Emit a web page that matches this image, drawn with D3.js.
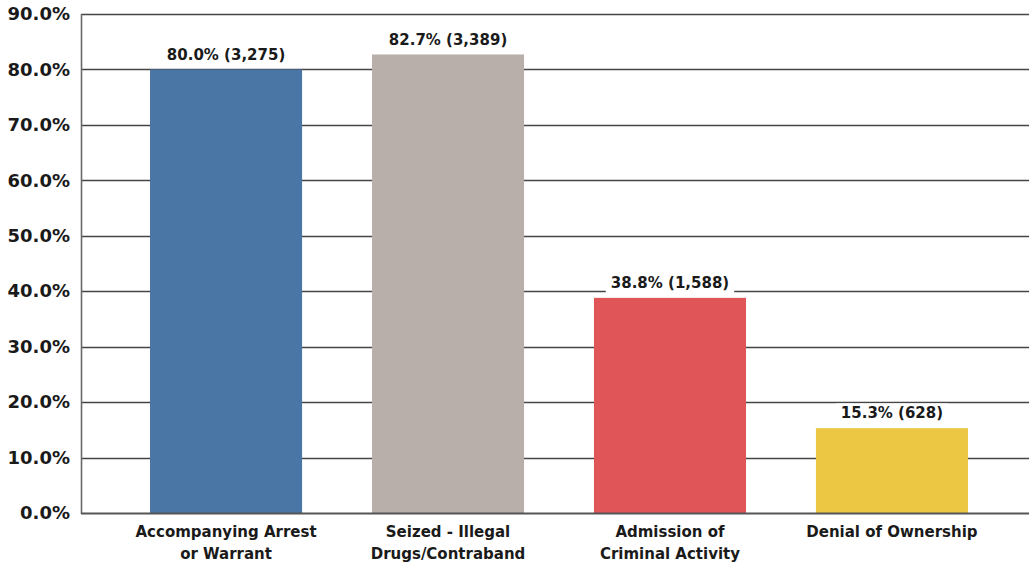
<!DOCTYPE html>
<html>
<head>
<meta charset="utf-8">
<script src="https://cdn.jsdelivr.net/npm/d3@7"></script>
<style>
  html, body { margin: 0; padding: 0; background: #fff; }
  svg { display: block; }
  text { font-family: "DejaVu Sans", sans-serif; font-weight: 700; fill: #1a1a1a; }
</style>
</head>
<body>
<svg id="chart" width="1029" height="565"></svg>
<script>
// Reasons for search: share of searches and counts
const categories = ["Accompanying Arrest|or Warrant", "Seized - Illegal|Drugs/Contraband", "Admission of|Criminal Activity", "Denial of Ownership"];
const percents = [80.0, 82.7, 38.8, 15.3];
const counts = [3275, 3389, 1588, 628];
const colors = ["#4a76a5", "#b8afaa", "#e05557", "#ebc744"];
const yTicks = [0, 10, 20, 30, 40, 50, 60, 70, 80, 90];

const W = 1029, H = 565;
const plotLeft = 81, plotTop = 14, plotBottom = 513;

const svg = d3.select("#chart");

const y = d3.scaleLinear().domain([0, 90]).range([plotBottom, plotTop]);
const x = d3.scaleBand().domain(categories).range([plotLeft, 1037])
  .paddingInner(0.315).paddingOuter(0.311);

// horizontal gridlines
svg.append("g").selectAll("line").data(yTicks.filter(d => d > 0)).join("line")
  .attr("x1", plotLeft).attr("x2", W)
  .attr("y1", d => Math.round(y(d)) + 0.5).attr("y2", d => Math.round(y(d)) + 0.5)
  .attr("stroke", "#454545").attr("stroke-width", 1.6);

// y axis labels
const yAxis = d3.axisLeft(y).tickValues(yTicks).tickSize(0).tickPadding(11)
  .tickFormat(d => d.toFixed(1) + "%");
const gy = svg.append("g").attr("transform", `translate(${plotLeft},0)`).call(yAxis);
gy.select(".domain").remove();
gy.selectAll("text").attr("font-size", 18).attr("fill", "#1a1a1a")
  .style("font-family", '"DejaVu Sans", sans-serif').style("font-weight", 700);

// left frame line
svg.append("line").attr("x1", plotLeft + 0.5).attr("x2", plotLeft + 0.5)
  .attr("y1", plotTop).attr("y2", plotBottom + 1)
  .attr("stroke", "#6a6a6a").attr("stroke-width", 1.6);

// bars
svg.append("g").selectAll("rect").data(categories).join("rect")
  .attr("x", d => x(d)).attr("width", x.bandwidth())
  .attr("y", (d, i) => y(percents[i]))
  .attr("height", (d, i) => plotBottom - y(percents[i]))
  .attr("fill", (d, i) => colors[i]);

// baseline
svg.append("line").attr("x1", plotLeft).attr("x2", W)
  .attr("y1", plotBottom + 0.5).attr("y2", plotBottom + 0.5)
  .attr("stroke", "#555").attr("stroke-width", 2);

// value labels with white backing
const fmt = d3.format(",");
const lg = svg.append("g").selectAll("g").data(categories).join("g")
  .attr("transform", (d, i) => `translate(${x(d) + x.bandwidth() / 2},${y(percents[i]) - 15})`);
lg.each(function (d, i) {
  const g = d3.select(this);
  const t = g.append("text").attr("text-anchor", "middle").attr("dy", "0.35em")
    .attr("font-size", 15).text(`${percents[i].toFixed(1)}% (${fmt(counts[i])})`);
  const bb = t.node().getBBox();
  g.insert("rect", "text").attr("x", bb.x - 5).attr("y", bb.y - 1)
    .attr("width", bb.width + 10).attr("height", bb.height + 2).attr("fill", "#fff");
});

// category labels
const cg = svg.append("g").selectAll("text").data(categories).join("text")
  .attr("text-anchor", "middle").attr("font-size", 15)
  .attr("x", d => x(d) + x.bandwidth() / 2).attr("y", 537);
cg.each(function (d) {
  const t = d3.select(this);
  d.split("|").forEach((line, k) => {
    t.append("tspan").attr("x", x(d) + x.bandwidth() / 2).attr("dy", k === 0 ? 0 : 22).text(line);
  });
});
</script>
</body>
</html>
